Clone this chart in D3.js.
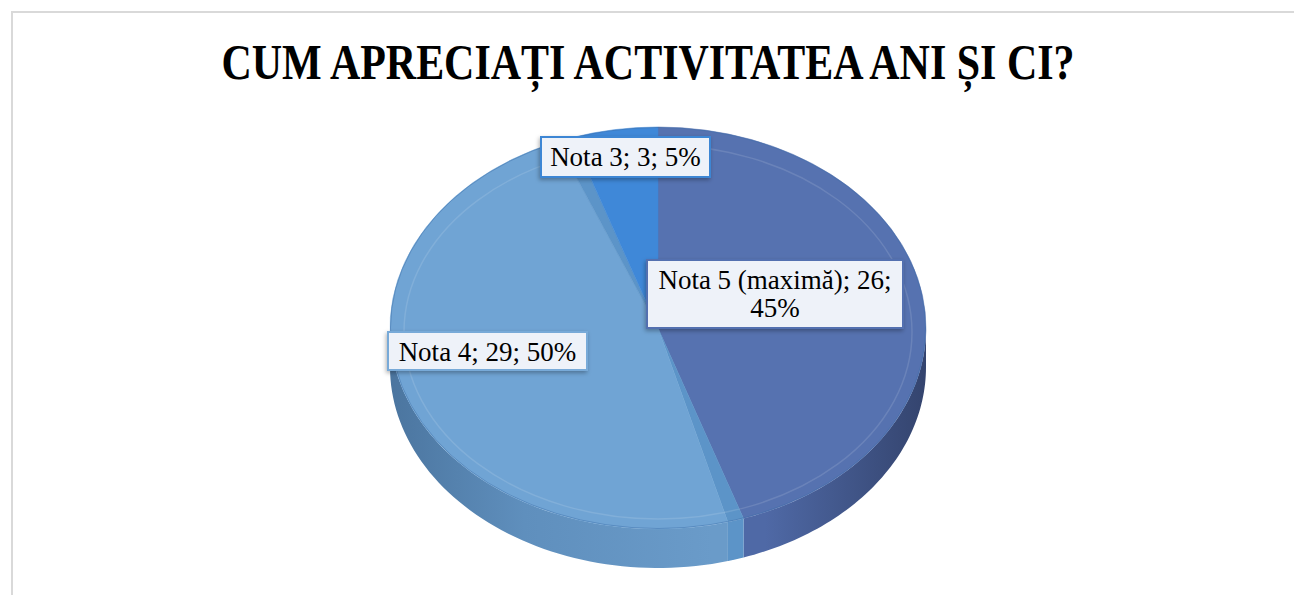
<!DOCTYPE html>
<html lang="ro">
<head>
    <meta charset="UTF-8">
    <title>pie-3d</title>
    <script src="https://cdn.jsdelivr.net/npm/d3@7/dist/d3.min.js"></script>
    <style>
        body { margin: 0; background: #fff; }
        svg { display: block; }
    </style>
</head>
<body>
<svg class="chart"></svg>
<script>
    // data
    var categories = ['Nota 5 (maximă)', 'Nota 4', 'Nota 3'];
    var counts = [26, 29, 3];
    var percents = ['45%', '50%', '5%'];
    var title = 'CUM APRECIAȚI ACTIVITATEA ANI ȘI CI?';

    // layout + style
    var width = 1294, height = 595;
    var cx = 658, cy = 328, rx = 268, ry = 201, depth = 39;
    var topColors = ['#5672b0', '#70a4d4', '#3f88d8'];
    var sideDark = ['#34446e', '#4b759f', '#2f6bb0'];
    var sideMid = ['#4f69a6', '#6a9bc9', '#3b7fcb'];
    var stripColor = '#5c94c8';
    var gap = 3.5 * Math.PI / 180;
    // label boxes and border colours
    var boxes = [
        {x: 647, y: 260, w: 256, h: 68, stroke: '#5370b0'},
        {x: 388, y: 332, w: 199, h: 38, stroke: '#78aad8'},
        {x: 541, y: 137, w: 169, h: 40, stroke: '#3e86d4'}
    ];

    var svg = d3.select('.chart').attr('width', width).attr('height', height);
    var defs = svg.append('defs');

    var f = defs.append('filter').attr('id', 'shadow')
        .attr('x', '-10%').attr('y', '-20%').attr('width', '120%').attr('height', '150%');
    f.append('feDropShadow').attr('dx', -1).attr('dy', 2).attr('stdDeviation', 2)
        .attr('flood-color', '#000').attr('flood-opacity', 0.3);

    // chart frame
    svg.append('rect')
        .attr('x', 12).attr('y', 12).attr('width', 1400).attr('height', 700)
        .attr('fill', 'none').attr('stroke', '#d9d9d9').attr('stroke-width', 2);

    // title
    svg.append('text')
        .attr('x', width / 2 + 1).attr('y', 79)
        .attr('text-anchor', 'middle')
        .attr('font-family', '"Liberation Serif", serif')
        .attr('font-weight', 'bold')
        .attr('font-size', 51)
        .attr('textLength', 853)
        .attr('lengthAdjust', 'spacingAndGlyphs')
        .text(title);

    var pie = d3.pie().sort(null).value(function (d) { return d; });
    var arcs = pie(counts);

    function px(a) { return cx + rx * Math.sin(a); }
    function py(a) { return cy - ry * Math.cos(a); }

    // side wall path for an angle range (only the front half shows)
    function sidePath(a0, a1) {
        var s = Math.max(a0, Math.PI / 2), e = Math.min(a1, 3 * Math.PI / 2);
        if (e <= s) return null;
        var n = 60, pts = [], i, t;
        for (i = 0; i <= n; i++) { t = s + (e - s) * i / n; pts.push([px(t), py(t)]); }
        for (i = n; i >= 0; i--) { t = s + (e - s) * i / n; pts.push([px(t), py(t) + depth]); }
        return d3.line()(pts) + 'Z';
    }

    // gradients for walls
    arcs.forEach(function (d, i) {
        var g = defs.append('linearGradient').attr('id', 'side' + i)
            .attr('gradientUnits', 'userSpaceOnUse')
            .attr('x1', cx - rx).attr('x2', cx + rx).attr('y1', 0).attr('y2', 0);
        if (i === 0) {
            g.append('stop').attr('offset', '0%').attr('stop-color', sideMid[i]);
            g.append('stop').attr('offset', '70%').attr('stop-color', sideMid[i]);
            g.append('stop').attr('offset', '100%').attr('stop-color', sideDark[i]);
        } else {
            g.append('stop').attr('offset', '0%').attr('stop-color', sideDark[i]);
            g.append('stop').attr('offset', '25%').attr('stop-color', '#5f8fbd');
            g.append('stop').attr('offset', '60%').attr('stop-color', sideMid[i]);
            g.append('stop').attr('offset', '100%').attr('stop-color', sideMid[i]);
        }
    });

    // pieces: slices plus thin radial strips on both sides of the middle slice
    var pieces = [];
    arcs.forEach(function (d, i) {
        var s = d.startAngle, e = d.endAngle;
        if (i === 1) {
            pieces.push({s: s, e: s + gap, fill: stripColor, side: stripColor});
            pieces.push({s: s + gap, e: e - gap, fill: topColors[i], side: 'url(#side' + i + ')'});
            pieces.push({s: e - gap, e: e, fill: stripColor, side: stripColor});
        } else {
            pieces.push({s: s, e: e, fill: topColors[i], side: 'url(#side' + i + ')'});
        }
    });

    var walls = svg.append('g').attr('class', 'walls');
    pieces.forEach(function (p) {
        var path = sidePath(p.s, p.e);
        if (path) walls.append('path').attr('d', path).attr('fill', p.side);
    });

    // top faces drawn with d3.arc, squashed into an ellipse
    var arc = d3.arc().innerRadius(0).outerRadius(rx);
    var topG = svg.append('g')
        .attr('class', 'tops')
        .attr('transform', 'translate(' + cx + ',' + cy + ') scale(1,' + (ry / rx) + ')');
    topG.selectAll('path')
        .data(pieces)
        .enter()
        .append('path')
        .attr('d', function (p) { return arc({startAngle: p.s, endAngle: p.e}); })
        .attr('fill', function (p) { return p.fill; })
        .attr('stroke', function (p) { return p.fill; })
        .attr('stroke-width', 0.6);

    // rim line and faint bevel
    svg.append('ellipse')
        .attr('cx', cx).attr('cy', cy).attr('rx', rx - 0.5).attr('ry', ry - 0.5)
        .attr('fill', 'none').attr('stroke', '#3f6fa8').attr('stroke-opacity', 0.45).attr('stroke-width', 1);
    svg.append('ellipse')
        .attr('cx', cx).attr('cy', cy + 4).attr('rx', rx - 14).attr('ry', ry - 14)
        .attr('fill', 'none').attr('stroke', '#ffffff').attr('stroke-opacity', 0.12).attr('stroke-width', 1.5);

    // labels
    var labels = svg.append('g').attr('class', 'labels')
        .attr('font-family', '"Liberation Serif", serif')
        .attr('font-size', 27)
        .attr('fill', '#000');

    arcs.forEach(function (d, i) {
        var b = boxes[i];
        labels.append('rect')
            .attr('x', b.x).attr('y', b.y).attr('width', b.w).attr('height', b.h)
            .attr('fill', '#eef2f9')
            .attr('stroke', b.stroke).attr('stroke-width', 2)
            .attr('filter', 'url(#shadow)');
        var lines;
        if (i === 0) {
            lines = [categories[i] + '; ' + counts[i] + ';', percents[i]];
        } else {
            lines = [categories[i] + '; ' + counts[i] + '; ' + percents[i]];
        }
        var t = labels.append('text')
            .attr('text-anchor', 'middle')
            .attr('x', b.x + b.w / 2);
        lines.forEach(function (l, k) {
            t.append('tspan')
                .attr('x', b.x + b.w / 2)
                .attr('y', b.y + 29 + k * 28)
                .text(l);
        });
    });
</script>
</body>
</html>
